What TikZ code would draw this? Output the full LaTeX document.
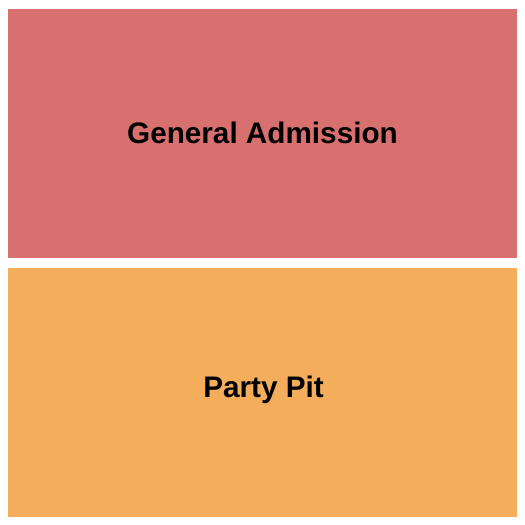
\documentclass[tikz,border=0pt]{standalone}
\usepackage{fontspec}
\setmainfont{Liberation Sans}
\definecolor{gared}{RGB}{216,112,111}
\definecolor{pitorange}{RGB}{244,173,90}
\begin{document}
\begin{tikzpicture}[x=1pt,y=1pt,
  section/.style={draw=none,inner sep=0pt,outer sep=0pt},
  label/.style={anchor=base,inner sep=0pt,font=\fontsize{29.7}{34}\selectfont\bfseries}]
\useasboundingbox (0,0) rectangle (525,525);
\fill[white] (0,0) rectangle (525,525);
\node[section,fill=gared,minimum width=509pt,minimum height=249pt,anchor=north west] (ga) at (8,516) {};
\node[section,fill=pitorange,minimum width=509pt,minimum height=249pt,anchor=north west] (pit) at (8,257) {};
\node[label] (galabel) at (262.5,381) {General Admission};
\node[label] (pitlabel) at (263.5,127) {Party Pit};
\end{tikzpicture}
\end{document}
